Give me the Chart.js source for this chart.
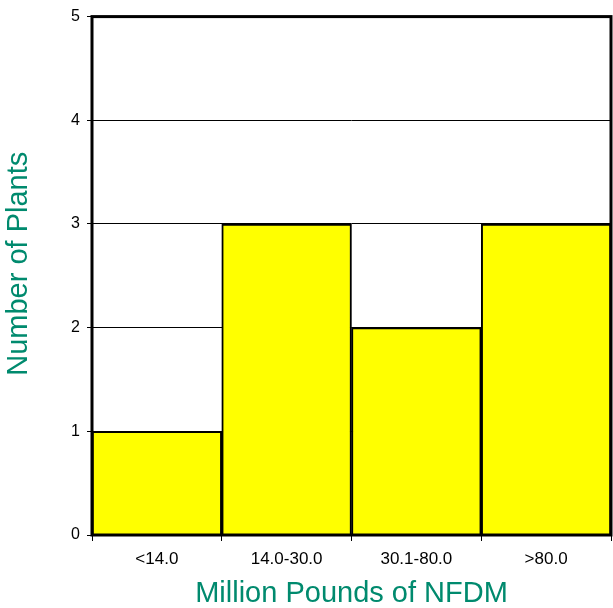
<!DOCTYPE html>
<html>
<head>
<meta charset="utf-8">
<script src="https://cdn.jsdelivr.net/npm/chart.js@4/dist/chart.umd.min.js"></script>
<style>
  html, body { margin: 0; padding: 0; background: #fff; }
  #wrap { width: 613px; height: 608px; }
</style>
</head>
<body>
<div id="wrap"><canvas id="plantsChart"></canvas></div>
<script>
// Data
const categories = ['<14.0', '14.0-30.0', '30.1-80.0', '>80.0'];
const plantCounts = [1, 3, 2, 3];
const yTicks = [0, 1, 2, 3, 4, 5];

// rámeček kolem plochy grafu
const frame = {
    id: 'frame',
    afterDatasetsDraw(chart) {
        const a = chart.chartArea;
        const ctx = chart.ctx;
        ctx.save();
        ctx.strokeStyle = '#000';
        ctx.lineWidth = 3;
        ctx.strokeRect(a.left, a.top, a.right - a.left, a.bottom - a.top);
        ctx.restore();
    }
};

const ctx = document.getElementById('plantsChart').getContext('2d');

new Chart(ctx, {
    type: 'bar',
    data: {
        labels: categories,
        datasets: [{
            label: 'Number of Plants',
            data: plantCounts,
            backgroundColor: '#ffff00',
            borderColor: '#000',
            borderWidth: 2,
            barPercentage: 1,
            categoryPercentage: 1
        }]
    },
    options: {
        responsive: true,
        maintainAspectRatio: false,
        animation: false,
        layout: { padding: { top: 16, right: 2, left: 0, bottom: 0 } },
        scales: {
            x: {
                offset: true,
                grid: {
                    offset: true,
                    drawOnChartArea: false,
                    color: '#000',
                    tickLength: 6
                },
                border: { display: false },
                ticks: {
                    color: '#000',
                    font: { family: 'Liberation Sans', size: 17 },
                    padding: 8,
                    maxRotation: 0
                },
                title: {
                    display: true,
                    text: 'Million Pounds of NFDM',
                    color: '#008a6e',
                    font: { family: 'Liberation Sans', size: 29 },
                    padding: { top: 6, bottom: -3 }
                },
                afterFit: s => { s.height = 73; }
            },
            y: {
                min: 0,
                max: 5,
                afterBuildTicks: s => { s.ticks = yTicks.map(v => ({ value: v })); },
                grid: {
                    color: '#000',
                    lineWidth: 1,
                    tickLength: 5
                },
                border: { display: false },
                ticks: {
                    color: '#000',
                    font: { family: 'Liberation Sans', size: 16 },
                    padding: 7
                },
                title: {
                    display: true,
                    // mezery na začátku posunou popisek o kousek nahoru
                    text: '   Number of Plants',
                    color: '#008a6e',
                    font: { family: 'Liberation Sans', size: 29 },
                    padding: { top: 2, bottom: 20 }
                },
                afterFit: s => { s.width = 92; }
            }
        },
        plugins: {
            legend: { display: false },
            tooltip: { enabled: false }
        }
    },
    plugins: [frame]
});
</script>
</body>
</html>
